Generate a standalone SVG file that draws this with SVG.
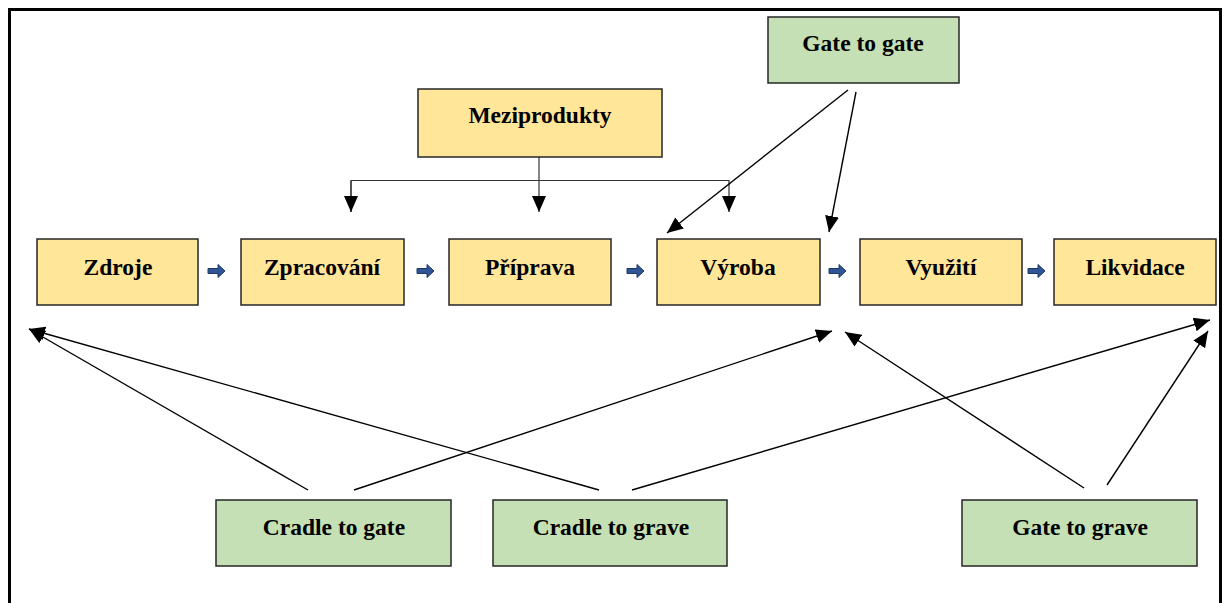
<svg xmlns="http://www.w3.org/2000/svg" width="1224" height="603" viewBox="0 0 1224 603">
<defs>
<style>
.y{fill:#FFE699;stroke:#262626;stroke-width:1.5}
.g{fill:#C5E0B4;stroke:#262626;stroke-width:1.5}
.t{font-family:"Liberation Serif",serif;font-weight:bold;font-size:23.5px;fill:#000;text-anchor:middle}
.c{stroke:#000;stroke-width:1.4;fill:none}
.m{stroke:#333;stroke-width:1.2;fill:none}
.ba{fill:#2F5597;stroke:#1F3864;stroke-width:1}
</style>
<marker id="ah" markerUnits="userSpaceOnUse" markerWidth="17" markerHeight="15" refX="16" refY="7" orient="auto">
<path d="M0,0 L16,7 L0,14 z" fill="#000"/>
</marker>
<path id="blk" d="M0,-2.5 L10,-2.5 L10,-6.5 L17,0 L10,6.5 L10,2.5 L0,2.5 z"/>
</defs>
<rect x="0" y="0" width="1224" height="603" fill="#fff"/>
<path d="M9.5,603 L9.5,9.5 L1220.5,9.5 L1220.5,603" fill="none" stroke="#000" stroke-width="3"/>

<g id="connectors">
<path class="m" d="M539,157 L539,212" marker-end="url(#ah)"/>
<path class="m" d="M351,212 L351,180.5 L729,180.5 L729,212" marker-end="url(#ah)"/>
<path class="m" d="M351,181 L351,212" marker-end="url(#ah)"/>
<line class="c" x1="848" y1="90" x2="667" y2="233" marker-end="url(#ah)"/>
<line class="c" x1="856" y1="92" x2="829" y2="232" marker-end="url(#ah)"/>
<line class="c" x1="308" y1="490" x2="29" y2="329" marker-end="url(#ah)"/>
<line class="c" x1="354" y1="490" x2="832" y2="331" marker-end="url(#ah)"/>
<line class="c" x1="599" y1="490" x2="29" y2="329" marker-end="url(#ah)"/>
<line class="c" x1="632" y1="490" x2="1210" y2="320" marker-end="url(#ah)"/>
<line class="c" x1="1084" y1="488" x2="845" y2="332" marker-end="url(#ah)"/>
<line class="c" x1="1107" y1="485" x2="1208" y2="331" marker-end="url(#ah)"/>
<use href="#blk" class="ba" x="208" y="271"/>
<use href="#blk" class="ba" x="417" y="271"/>
<use href="#blk" class="ba" x="627" y="271"/>
<use href="#blk" class="ba" x="829" y="271"/>
<use href="#blk" class="ba" x="1028" y="271"/>
</g>

<g id="zdroje"><rect class="y" x="37" y="239" width="161" height="66"/><text class="t" x="118" y="275">Zdroje</text></g>
<g id="zpracovani"><rect class="y" x="241" y="239" width="163" height="66"/><text class="t" x="322" y="275">Zpracování</text></g>
<g id="priprava"><rect class="y" x="449" y="239" width="162" height="66"/><text class="t" x="530" y="275">Příprava</text></g>
<g id="vyroba"><rect class="y" x="657" y="239" width="163" height="66"/><text class="t" x="738" y="275">Výroba</text></g>
<g id="vyuziti"><rect class="y" x="860" y="239" width="162" height="66"/><text class="t" x="941" y="275">Využití</text></g>
<g id="likvidace"><rect class="y" x="1054" y="239" width="162" height="66"/><text class="t" x="1135" y="275">Likvidace</text></g>
<g id="meziprodukty"><rect class="y" x="418" y="89" width="244" height="68"/><text class="t" x="540" y="123">Meziprodukty</text></g>
<g id="gate-to-gate"><rect class="g" x="768" y="17" width="191" height="66"/><text class="t" x="863" y="51">Gate to gate</text></g>
<g id="cradle-to-gate"><rect class="g" x="216" y="500" width="235" height="66"/><text class="t" x="334" y="535">Cradle to gate</text></g>
<g id="cradle-to-grave"><rect class="g" x="493" y="500" width="234" height="66"/><text class="t" x="611" y="535">Cradle to grave</text></g>
<g id="gate-to-grave"><rect class="g" x="962" y="500" width="235" height="66"/><text class="t" x="1080" y="535">Gate to grave</text></g>
</svg>
